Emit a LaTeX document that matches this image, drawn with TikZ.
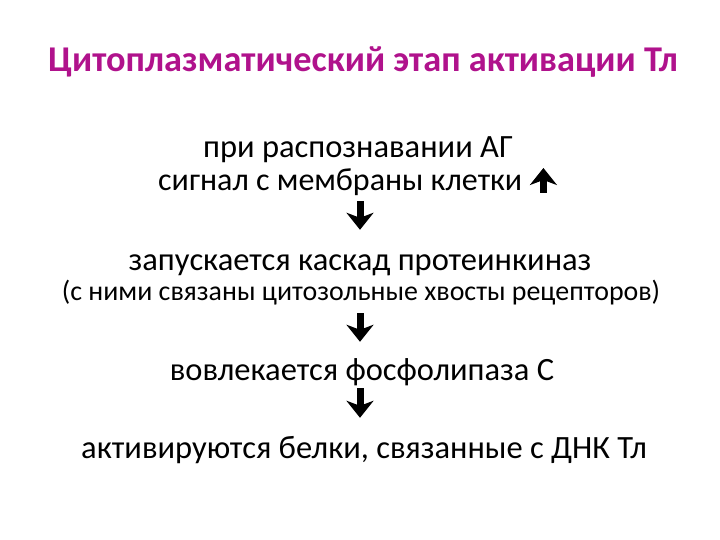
\documentclass[tikz,border=0pt]{standalone}
\usepackage{fontspec}
\setmainfont{Carlito}
\usetikzlibrary{arrows.meta}
\definecolor{titc}{RGB}{176,18,140}
\tikzset{%
    tit/.style={anchor=base, inner sep=0pt, font=\fontsize{36.3}{40}\selectfont\bfseries, text=titc},
    txt/.style={anchor=base, inner sep=0pt, text height=23pt, text depth=8pt, font=\fontsize{32.5}{36}\selectfont},
    sml/.style={anchor=base, inner sep=0pt, text height=20pt, text depth=7pt, font=\fontsize{27.9}{32}\selectfont},
    bigarr/.style={line width=7pt, -{Stealth[length=17pt, width=27pt, inset=5pt]}},
}
\begin{document}
\begin{tikzpicture}[x=1pt, y=-1pt]
    \useasboundingbox (0,0) rectangle (720,540);
    \node[tit] (head) at (363,72) {Цитоплазматический этап активации Тл};
    \node[txt] (rec) at (358,158) {при распознавании АГ};
    \node[txt, anchor=base west, font=\fontsize{32}{36}\selectfont] (sig) at (158,191) {сигнал с мембраны клетки};
    \node[txt] (kas) at (360,270) {запускается каскад протеинкиназ};
    \node[sml] (tail) at (361,300) {(с ними связаны цитозольные хвосты рецепторов)};
    \node[txt] (plc) at (362,380) {вовлекается фосфолипаза С};
    \node[txt] (dnk) at (364,458) {активируются белки, связанные с ДНК Тл};
    % arrows
    \draw [bigarr] ([xshift=21pt, yshift=-2pt]sig.base east) -- ++(0,-25);
    \draw [bigarr, shorten <=2pt, shorten >=17pt] (kas.north |- sig.south) -- (kas.north);
    \draw [bigarr, shorten <=6pt, shorten >=15pt] (kas.north |- tail.south) -- (kas.north |- plc.north);
    \draw [bigarr, shorten >=17pt] (kas.north |- plc.south) -- (kas.north |- dnk.north);
\end{tikzpicture}
\end{document}
